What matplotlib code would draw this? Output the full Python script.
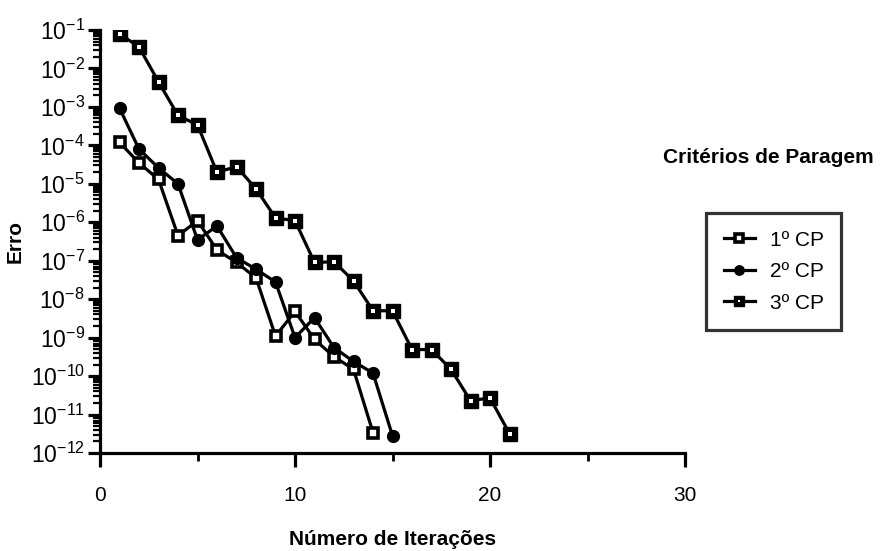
import matplotlib
matplotlib.use("Agg")
import matplotlib.pyplot as plt
from matplotlib.ticker import LogLocator, FixedLocator, NullFormatter
from matplotlib.legend_handler import HandlerTuple

plt.rcParams['font.family'] = ['Liberation Sans', 'DejaVu Sans']
plt.rcParams['mathtext.fontset'] = 'custom'
plt.rcParams['mathtext.rm'] = 'Liberation Sans'
plt.rcParams['mathtext.it'] = 'Liberation Sans'
plt.rcParams['mathtext.bf'] = 'Liberation Sans:bold'

# Data
iter_cp1 = [1, 2, 3, 4, 5, 6, 7, 8, 9, 10, 11, 12, 13, 14]
err_cp1 = [1.2e-4, 3.5e-5, 1.3e-5, 4.5e-7, 1.1e-6, 1.9e-7, 9e-8, 3.6e-8,
           1.1e-9, 4.8e-9, 9e-10, 3.2e-10, 1.5e-10, 3.4e-12]
iter_cp2 = [1, 2, 3, 4, 5, 6, 7, 8, 9, 10, 11, 12, 13, 14, 15]
err_cp2 = [9.3e-4, 8e-5, 2.6e-5, 1e-5, 3.5e-7, 8e-7, 1.2e-7, 6e-8, 2.8e-8,
           1e-9, 3.3e-9, 5.5e-10, 2.4e-10, 1.2e-10, 2.8e-12]
iter_cp3 = list(range(1, 22))
err_cp3 = [8e-2, 3.6e-2, 4.5e-3, 6e-4, 3.4e-4, 2e-5, 2.8e-5, 7.4e-6, 1.3e-6,
           1.1e-6, 9e-8, 9.4e-8, 3e-8, 5e-9, 5e-9, 4.9e-10, 4.9e-10, 1.5e-10,
           2.3e-11, 2.7e-11, 3.2e-12]
labels = ['1º CP', '2º CP', '3º CP']
x_ticks = [0, 10, 20, 30]

fig = plt.figure(figsize=(8.91, 5.51), dpi=100)
ax = fig.add_axes([100/891, 1-453/551, 585/891, 423/551])

lw = 2.3
l1, = ax.plot(iter_cp1, err_cp1, color='black', lw=lw, marker='s', ms=7.5,
              mfc='white', mec='black', mew=2.6, zorder=3)
l2, = ax.plot(iter_cp2, err_cp2, color='black', lw=lw, marker='o', ms=8.5,
              mfc='black', mec='black', zorder=3)
l3, = ax.plot(iter_cp3, err_cp3, color='black', lw=lw, marker='s', ms=9.5,
              mfc='black', mec='black', zorder=3)
l3d, = ax.plot(iter_cp3, err_cp3, ls='none', marker='s', ms=2.2,
               mfc='white', mec='white', mew=0, zorder=4)

ax.set_yscale('log')
ax.set_ylim(1e-12, 1e-1)
ax.set_xlim(0, 30)

ax.yaxis.set_major_locator(LogLocator(base=10, numticks=20))
ax.yaxis.set_minor_locator(LogLocator(base=10, subs=range(2, 10), numticks=200))
ax.yaxis.set_minor_formatter(NullFormatter())
ax.xaxis.set_major_locator(FixedLocator(x_ticks))
ax.xaxis.set_minor_locator(FixedLocator([5, 15, 25]))

for s in ['top', 'right']:
    ax.spines[s].set_visible(False)
for s in ['left', 'bottom']:
    ax.spines[s].set_linewidth(2.3)

ax.tick_params(axis='y', which='major', direction='out', length=9, width=2.3,
               labelsize=16.5, pad=2)
ax.tick_params(axis='y', which='minor', direction='out', length=5, width=1.6)
ax.tick_params(axis='x', which='major', direction='out', length=10, width=2.3,
               labelsize=15, pad=14)
ax.tick_params(axis='x', which='minor', direction='out', length=6, width=2)

ax.set_xlabel('Número de Iterações', fontsize=15, fontweight='bold', labelpad=18)
ax.set_ylabel('Erro', fontsize=15, fontweight='bold', labelpad=4)

fig.text(768/891, 1-158/551, 'Critérios de Paragem', fontsize=15,
         fontweight='bold', ha='center', va='center')

leg = ax.legend([l1, l2, (l3, l3d)], labels,
                handler_map={tuple: HandlerTuple(ndivide=1, pad=0)},
                loc='upper left', bbox_to_anchor=(706/891, 1-213/551),
                bbox_transform=fig.transFigure, fontsize=15, frameon=True,
                fancybox=False, edgecolor='black', handlelength=1.5,
                handletextpad=0.7, labelspacing=0.6, borderpad=0.85,
                borderaxespad=0, markerscale=0.8)
leg.get_frame().set_linewidth(2.3)

fig.savefig('out.png', dpi=100, facecolor='white')
